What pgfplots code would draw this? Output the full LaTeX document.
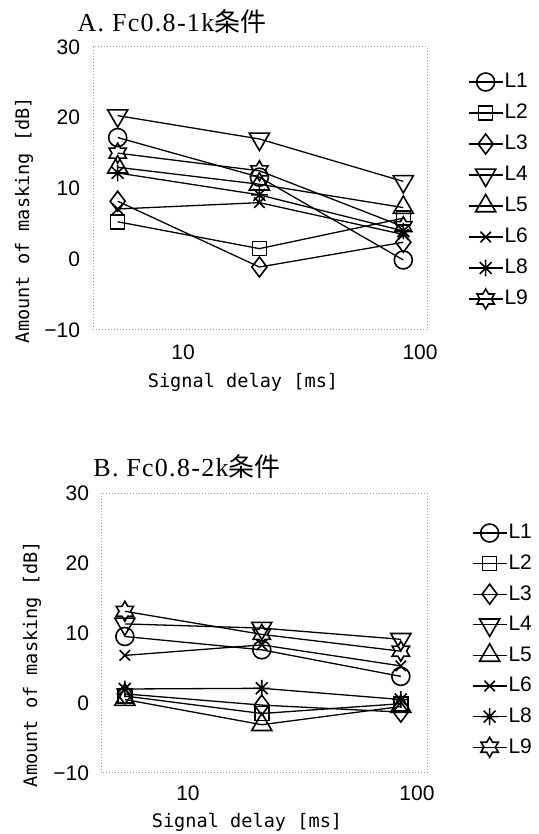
\documentclass[border=0pt]{standalone}
\usepackage{fontspec}
\setmainfont{Liberation Sans}
\newfontfamily\titlefont[LetterSpace=5]{Liberation Serif}
\newfontfamily\cjk{Noto Sans CJK JP}
\newfontfamily\labelfont{DejaVu Sans Mono}
\usepackage{pgfplots}
\pgfplotsset{compat=1.18}

% open marks used for the listener series
\pgfdeclareplotmark{triup}{%
  \pgfpathmoveto{\pgfqpointpolar{90}{\pgfplotmarksize}}%
  \pgfpathlineto{\pgfqpointpolar{210}{\pgfplotmarksize}}%
  \pgfpathlineto{\pgfqpointpolar{330}{\pgfplotmarksize}}%
  \pgfpathclose\pgfusepathqstroke}
\pgfdeclareplotmark{tridown}{%
  \pgfpathmoveto{\pgfqpointpolar{270}{\pgfplotmarksize}}%
  \pgfpathlineto{\pgfqpointpolar{30}{\pgfplotmarksize}}%
  \pgfpathlineto{\pgfqpointpolar{150}{\pgfplotmarksize}}%
  \pgfpathclose\pgfusepathqstroke}
\pgfdeclareplotmark{star8}{%
  \pgfpathmoveto{\pgfqpoint{-\pgfplotmarksize}{0pt}}\pgfpathlineto{\pgfqpoint{\pgfplotmarksize}{0pt}}%
  \pgfpathmoveto{\pgfqpoint{0pt}{-\pgfplotmarksize}}\pgfpathlineto{\pgfqpoint{0pt}{\pgfplotmarksize}}%
  \pgfpathmoveto{\pgfqpointpolar{45}{\pgfplotmarksize}}\pgfpathlineto{\pgfqpointpolar{225}{\pgfplotmarksize}}%
  \pgfpathmoveto{\pgfqpointpolar{135}{\pgfplotmarksize}}\pgfpathlineto{\pgfqpointpolar{315}{\pgfplotmarksize}}%
  \pgfusepathqstroke}
\pgfdeclareplotmark{hexagram}{%
  \pgfpathmoveto{\pgfqpointpolar{90}{\pgfplotmarksize}}%
  \pgfpathlineto{\pgfqpointpolar{120}{0.577\pgfplotmarksize}}%
  \pgfpathlineto{\pgfqpointpolar{150}{\pgfplotmarksize}}%
  \pgfpathlineto{\pgfqpointpolar{180}{0.577\pgfplotmarksize}}%
  \pgfpathlineto{\pgfqpointpolar{210}{\pgfplotmarksize}}%
  \pgfpathlineto{\pgfqpointpolar{240}{0.577\pgfplotmarksize}}%
  \pgfpathlineto{\pgfqpointpolar{270}{\pgfplotmarksize}}%
  \pgfpathlineto{\pgfqpointpolar{300}{0.577\pgfplotmarksize}}%
  \pgfpathlineto{\pgfqpointpolar{330}{\pgfplotmarksize}}%
  \pgfpathlineto{\pgfqpointpolar{0}{0.577\pgfplotmarksize}}%
  \pgfpathlineto{\pgfqpointpolar{30}{\pgfplotmarksize}}%
  \pgfpathlineto{\pgfqpointpolar{60}{0.577\pgfplotmarksize}}%
  \pgfpathclose\pgfusepathqstroke}

% series styles
\tikzset{
  mk/.style={solid, line width=0.8pt, fill=none},
  sL1/.style={black, line width=0.65pt, mark=o, mark size=4.5pt, mark options={mk}},
  sL2/.style={black, line width=0.65pt, mark=square, mark size=3.5pt, mark options={mk}},
  sL3/.style={black, line width=0.65pt, mark=diamond, mark size=5pt, mark options={mk}},
  sL4/.style={black, line width=0.65pt, mark=tridown, mark size=5.8pt, mark options={mk}},
  sL5/.style={black, line width=0.65pt, mark=triup, mark size=5.8pt, mark options={mk}},
  sL6/.style={black, line width=0.65pt, mark=x, mark size=3.7pt, mark options={mk}},
  sL8/.style={black, line width=0.65pt, mark=star8, mark size=4.2pt, mark options={mk}},
  sL9/.style={black, line width=0.65pt, mark=hexagram, mark size=5pt, mark options={mk}},
}

% legend sample: short line through the mark, fixed row height
\pgfplotsset{
  legend image code/.code={%
    \path[draw=none, fill=none] (0pt,-6.5pt) rectangle (17pt,6.5pt);
    \draw[mark repeat=2, mark phase=2, #1]
      plot coordinates {(0pt,0pt) (8.5pt,0pt) (17pt,0pt)};},
}

\begin{document}
\begin{tikzpicture}
\path[use as bounding box] (0pt,0pt) rectangle (269pt,417pt);

% ---------- A. Fc0.8-1k ----------
\begin{axis}[
  xmode=log, scale only axis,
  at={(46.5pt,252pt)}, anchor=south west,
  width=167pt, height=141.5pt,
  xmin=4.17, xmax=107, ymin=-10, ymax=30,
  xtick={10,100}, xticklabels={10,100},
  ytick={-10,0,10,20,30}, yticklabels={−10,0,10,20,30},
  major tick length=0pt, minor tick length=0pt,
  axis line style={gray!80, densely dotted, line width=0.5pt},
  tick label style={font=\fontsize{10.5}{12}\selectfont},
  xticklabel style={yshift=-4pt},
  yticklabel style={xshift=-3pt},
  legend style={draw=none, fill=none, inner sep=0pt, outer sep=0pt,
    at={(1,1)}, anchor=north west, xshift=20.5pt, yshift=-11pt,
    row sep=2.5pt, nodes={inner sep=0.6pt},
    font=\fontsize{10.5}{12}\selectfont},
  legend cell align=left,
]
\addplot[sL1] coordinates {(5.3,17.2) (21,11.6) (85,-0.1)};
\addplot[sL2] coordinates {(5.3,5.3) (21,1.5) (85,5.8)};
\addplot[sL3] coordinates {(5.3,8.2) (21,-1.1) (85,2.4)};
\addplot[sL4] coordinates {(5.3,20.3) (21,17.0) (85,11.0)};
\addplot[sL5] coordinates {(5.3,13.0) (21,10.6) (85,7.3)};
\addplot[sL6] coordinates {(5.3,7.1) (21,8.0) (85,3.5)};
\addplot[sL8] coordinates {(5.3,12.2) (21,9.1) (85,4.0)};
\addplot[sL9] coordinates {(5.3,15.0) (21,12.5) (85,4.6)};
\legend{L1,L2,L3,L4,L5,L6,L8,L9}
\end{axis}

% ---------- B. Fc0.8-2k ----------
\begin{axis}[
  xmode=log, scale only axis,
  at={(50.5pt,30.5pt)}, anchor=south west,
  width=163pt, height=140pt,
  xmin=4.17, xmax=110.6, ymin=-10, ymax=30,
  xtick={10,100}, xticklabels={10,100},
  ytick={-10,0,10,20,30}, yticklabels={−10,0,10,20,30},
  major tick length=0pt, minor tick length=0pt,
  axis line style={gray!80, densely dotted, line width=0.5pt},
  tick label style={font=\fontsize{10.5}{12}\selectfont},
  xticklabel style={yshift=-3pt},
  yticklabel style={xshift=-2.5pt},
  legend style={draw=none, fill=none, inner sep=0pt, outer sep=0pt,
    at={(1,1)}, anchor=north west, xshift=22.5pt, yshift=-13.5pt,
    row sep=2.3pt, nodes={inner sep=0.6pt},
    font=\fontsize{10.5}{12}\selectfont},
  legend cell align=left,
]
\addplot[sL1] coordinates {(5.3,9.5) (21,7.6) (85,3.8)};
\addplot[sL2] coordinates {(5.3,1.0) (21,-1.5) (85,-0.1)};
\addplot[sL3] coordinates {(5.3,1.3) (21,-0.3) (85,-1.3)};
\addplot[sL4] coordinates {(5.3,11.3) (21,10.7) (85,9.1)};
\addplot[sL5] coordinates {(5.3,0.5) (21,-3.1) (85,-0.5)};
\addplot[sL6] coordinates {(5.3,6.8) (21,8.3) (85,5.3)};
\addplot[sL8] coordinates {(5.3,2.0) (21,2.1) (85,0.5)};
\addplot[sL9] coordinates {(5.3,13.1) (21,9.8) (85,7.4)};
\legend{L1,L2,L3,L4,L5,L6,L8,L9}
\end{axis}

% titles and axis labels
\node at (86pt,406pt) {\fontsize{13}{15}\selectfont\titlefont A. Fc0.8-1k\cjk 条件};
\node at (93.5pt,183.5pt) {\fontsize{13}{15}\selectfont\titlefont B. Fc0.8-2k\cjk 条件};
\node[rotate=90, font=\labelfont\fontsize{9.3}{11}\selectfont] at (12pt,307pt) {Amount of masking [dB]};
\node[rotate=90, font=\labelfont\fontsize{9.3}{11}\selectfont] at (16pt,85pt) {Amount of masking [dB]};
\node[font=\labelfont\fontsize{9.3}{11}\selectfont] at (121.5pt,226pt) {Signal delay [ms]};
\node[font=\labelfont\fontsize{9.3}{11}\selectfont] at (123.5pt,6pt) {Signal delay [ms]};
\end{tikzpicture}
\end{document}
